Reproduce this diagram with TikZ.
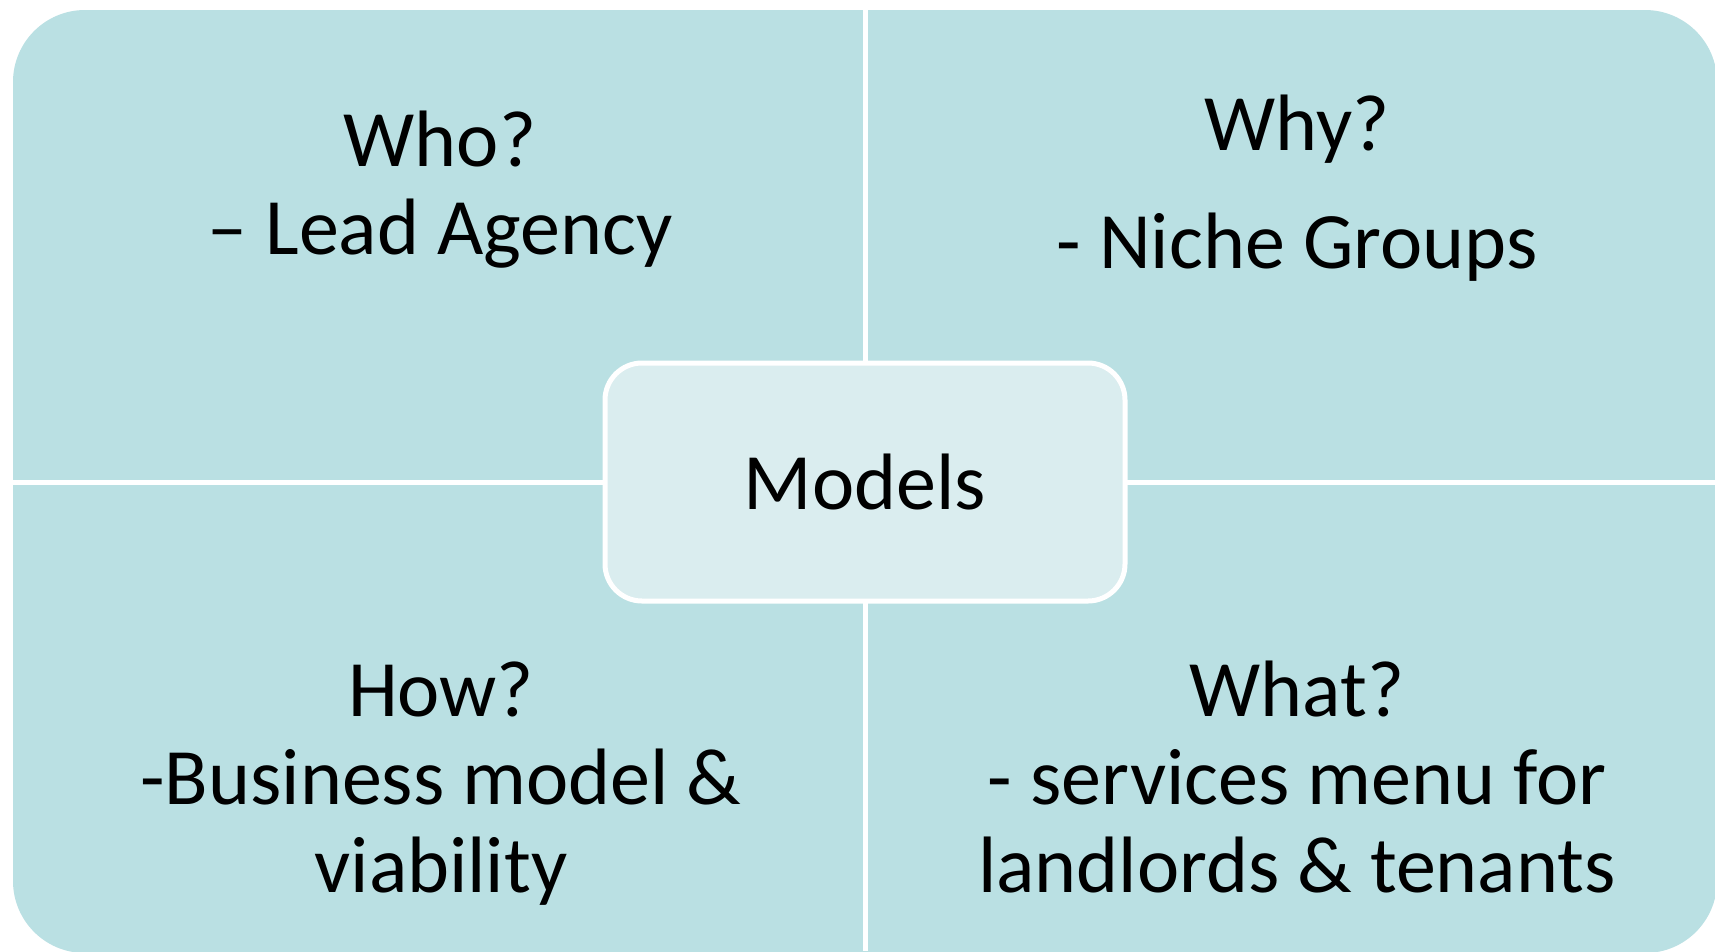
\documentclass[tikz,border=0pt]{standalone}
\usepackage{fontspec}
\setmainfont{Carlito}
\definecolor{quadfill}{HTML}{BAE0E3}
\definecolor{hubfill}{HTML}{DAEDEF}
\begin{document}
\begin{tikzpicture}[x=1pt,y=-1pt,
  lbl/.style={align=center,font=\fontsize{80}{88}\selectfont,inner sep=0pt,anchor=base},
  divider/.style={white,line width=5pt},
  hub/.style={draw=white,line width=5pt,fill=hubfill,rounded corners=37pt,
    minimum width=520pt,minimum height=238pt,inner sep=0pt,
    font=\fontsize{80}{88}\selectfont}]
\useasboundingbox (0,0) rectangle (1715,951);
\fill[white] (0,0) rectangle (1715,951);
\fill[quadfill,rounded corners=72pt] (13,10) rectangle (1717,953);
\coordinate (vtop) at (865,0);
\coordinate (vbot) at (865,951);
\coordinate (hleft) at (0,482);
\coordinate (hright) at (1715,482);
\draw[divider] (vtop) -- (vbot);
\draw[divider] (hleft) -- (hright);
\node[hub] (models) at (865,482) {Models};
\node[lbl] (who) at (440,254) {Who?\\– Lead Agency};
\node[lbl] (why) at (1297,268) {Why?\\[30pt]- Niche Groups};
\node[lbl] (how) at (441,892) {How?\\-Business model \&\\viability};
\node[lbl] (what) at (1297,892) {What?\\- services menu for\\landlords \& tenants};
\end{tikzpicture}
\end{document}
